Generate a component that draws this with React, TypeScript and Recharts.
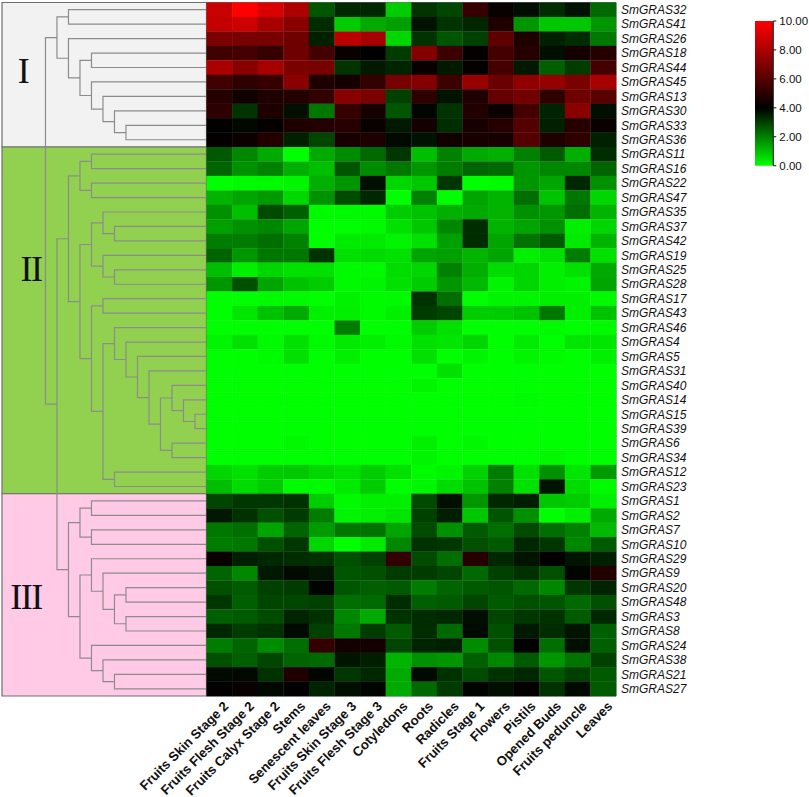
import { Bar, BarChart, ReferenceArea, ReferenceDot, Scatter, ScatterChart, XAxis, YAxis } from "recharts";

const genes = [
  "SmGRAS32", "SmGRAS41", "SmGRAS26", "SmGRAS18", "SmGRAS44", "SmGRAS45", "SmGRAS13", "SmGRAS30", "SmGRAS33", "SmGRAS36",
  "SmGRAS11", "SmGRAS16", "SmGRAS22", "SmGRAS47", "SmGRAS35", "SmGRAS37", "SmGRAS42", "SmGRAS19", "SmGRAS25", "SmGRAS28",
  "SmGRAS17", "SmGRAS43", "SmGRAS46", "SmGRAS4", "SmGRAS5", "SmGRAS31", "SmGRAS40", "SmGRAS14", "SmGRAS15", "SmGRAS39",
  "SmGRAS6", "SmGRAS34", "SmGRAS12", "SmGRAS23", "SmGRAS1", "SmGRAS2", "SmGRAS7", "SmGRAS10", "SmGRAS29", "SmGRAS9",
  "SmGRAS20", "SmGRAS48", "SmGRAS3", "SmGRAS8", "SmGRAS24", "SmGRAS38", "SmGRAS21", "SmGRAS27",
];

const tissues = [
  "Fruits Skin Stage 2", "Fruits Flesh Stage 2", "Fruits Calyx Stage 2", "Stems", "Senescent leaves",
  "Fruits Skin Stage 3", "Fruits Flesh Stage 3", "Cotyledons", "Roots", "Radicles", "Fruits Stage 1",
  "Flowers", "Pistils", "Opened Buds", "Fruits peduncle", "Leaves",
];

// expression per gene (rows) and tissue (columns)
const expression = [
  [8.7, 10, 9.1, 8.1, 2.67, 3.37, 3.37, 0.8, 3.2, 2.9, 5.3, 4.2, 3.8, 3.3, 3.7, 2.35],
  [8.6, 8.8, 7.9, 7.2, 3.3, 0.8, 1.33, 1.5, 3.7, 3.2, 3.4, 4.7, 1.65, 0.86, 0.86, 1.65],
  [6.9, 6.8, 6.8, 6.6, 3.5, 8.4, 7.9, 0.63, 3.2, 2.67, 3.0, 6.2, 4.7, 3.5, 3.3, 2.12],
  [5.5, 5.6, 5.3, 6.6, 5.6, 4.2, 4.0, 3.06, 7.1, 5.4, 4.1, 5.6, 4.9, 3.76, 4.5, 4.9],
  [8.0, 7.2, 7.9, 6.9, 6.8, 3.2, 3.6, 3.45, 4.2, 3.6, 4.1, 5.6, 3.6, 2.5, 3.06, 5.6],
  [5.5, 5.1, 5.3, 7.2, 4.7, 4.5, 5.2, 6.8, 7.1, 5.4, 7.6, 6.5, 7.4, 7.5, 6.9, 7.9],
  [4.9, 4.4, 4.7, 4.8, 5.2, 7.2, 6.9, 3.0, 5.1, 3.7, 4.7, 6.4, 6.7, 5.1, 6.6, 6.1],
  [5.1, 3.2, 4.7, 3.76, 2.12, 5.3, 4.6, 2.67, 3.92, 3.2, 4.8, 4.2, 5.6, 3.45, 7.2, 3.76],
  [4, 3.87, 4.1, 4.7, 4.8, 4.9, 4.2, 3.6, 4.5, 3.3, 4.6, 4.9, 6, 3.5, 4.9, 4.2],
  [4.1, 4.3, 4.8, 3.5, 2.9, 4.6, 4.7, 3.84, 3.7, 4.4, 4.6, 4.6, 6, 4.7, 5.1, 3.5],
  [2.6, 1.88, 1.33, 0, 1.33, 1.8, 2.35, 3.14, 1.02, 1.96, 1.33, 1.25, 1.96, 2.59, 1.25, 3.29],
  [2.43, 1.73, 1.96, 1.25, 1.02, 2.67, 1.8, 2.12, 1.65, 2.04, 2.43, 2.35, 1.65, 1.88, 1.88, 2.43],
  [0, 0.08, 0.08, 0.16, 1.25, 1.65, 3.76, 0.63, 0.86, 3.14, 0, 0.08, 1.65, 1.41, 3.37, 1.73],
  [1.18, 1.41, 1.57, 0.63, 1.73, 2.82, 3.37, 0, 1.96, 0, 1.41, 1.18, 2.27, 0.94, 2.12, 0.63],
  [1.73, 1.02, 2.82, 2.51, 0.08, 0.08, 0.08, 0.78, 0.94, 1.25, 1.33, 1.18, 1.73, 1.65, 2.27, 1.18],
  [1.49, 1.73, 1.88, 1.41, 0, 0, 0.08, 0.47, 0.86, 1.88, 3.29, 1.18, 1.41, 1.73, 0.24, 0.63],
  [2.04, 2.04, 2.27, 1.96, 0, 0.31, 0.31, 0.16, 0.47, 1.49, 3.29, 1.41, 2.2, 2.59, 0.31, 1.18],
  [2.43, 1.65, 2.12, 2.12, 3.22, 0.47, 0.55, 0.47, 1.41, 1.49, 1.18, 1.41, 0.24, 0.47, 2.04, 0.47],
  [1.02, 0.24, 0.63, 0.47, 0.47, 0.08, 0.08, 0.55, 0.63, 1.96, 1.25, 0.55, 0.63, 0.24, 0.47, 1.33],
  [1.65, 2.75, 1.41, 0.94, 0.78, 0.08, 0.16, 0.47, 0.78, 1.65, 1.1, 0.16, 0.63, 0.24, 0.16, 1.41],
  [0, 0, 0.08, 0.08, 0, 0.2, 0.08, 0.08, 3.22, 2.27, 0, 0.16, 0.16, 0.24, 0.24, 0.08],
  [0, 0.39, 0.94, 1.33, 0.24, 0.24, 0.08, 0.24, 3.06, 2.9, 0.78, 0.78, 0.94, 2.12, 0.24, 0.94],
  [0, 0, 0, 0, 0, 2.04, 0, 0, 0.78, 0.47, 0, 0, 0, 0.08, 0, 0.08],
  [0.16, 0.47, 0.08, 0.47, 0.08, 0.31, 0.24, 0.08, 0.47, 0.39, 0.63, 0, 0.31, 0, 0.39, 0.39],
  [0, 0, 0.08, 0.47, 0, 0.24, 0, 0, 0.47, 0, 0.16, 0, 0.16, 0.08, 0, 0.24],
  [0, 0, 0, 0, 0, 0, 0, 0, 0, 0.47, 0, 0, 0, 0, 0, 0],
  [0, 0, 0, 0, 0, 0, 0, 0, 0.16, 0, 0, 0, 0, 0, 0, 0],
  [0, 0, 0, 0, 0, 0, 0, 0, 0, 0, 0, 0, 0.04, 0, 0, 0],
  [0, 0, 0, 0, 0, 0, 0, 0, 0, 0, 0, 0, 0, 0, 0, 0],
  [0, 0, 0, 0, 0, 0, 0, 0, 0, 0, 0, 0, 0, 0, 0, 0],
  [0, 0, 0, 0.1, 0, 0, 0, 0, 0.24, 0, 0.1, 0, 0, 0, 0, 0],
  [0, 0, 0, 0, 0, 0, 0, 0, 0.16, 0, 0, 0, 0, 0.1, 0, 0],
  [0.63, 0.47, 0.78, 0.86, 0.63, 0.47, 0.78, 0.47, 0.08, 0.16, 0.7, 2.04, 0.47, 1.73, 0.39, 1.57],
  [1.02, 0.55, 0.78, 0.08, 0.08, 0.31, 0.78, 0, 0.16, 0.55, 0.94, 1.96, 0.47, 3.69, 0.55, 0.08],
  [2.9, 3.14, 3.14, 3.22, 0.78, 0.08, 0.24, 0.24, 2.82, 3.76, 1.65, 3.37, 3.53, 0.86, 0.78, 0.24],
  [3.61, 3.22, 2.75, 3.06, 2.04, 0.16, 0.24, 0.39, 2.98, 3.53, 0.86, 2.67, 1.73, 0, 0.24, 1.33],
  [2.12, 2.27, 1.41, 2.43, 1.57, 2.12, 2.2, 1.41, 2.82, 1.73, 2.59, 2.27, 2.82, 2.27, 1.96, 1.1],
  [2.04, 2.12, 2.75, 3.14, 0.63, 0, 0.31, 1.88, 3.22, 3.14, 2.75, 2.59, 3.37, 3.14, 1.88, 2.59],
  [4.2, 3.53, 3.37, 3.29, 3.22, 2.75, 2.98, 5.2, 2.82, 2.27, 4.9, 3.37, 3.69, 4.1, 3.69, 3.53],
  [2.43, 1.88, 3.61, 3.84, 3.69, 2.67, 2.75, 3.06, 3.06, 2.9, 2.35, 2.98, 3.22, 2.75, 3.92, 4.8],
  [2.75, 2.59, 2.98, 3.06, 3.95, 2.67, 2.51, 2.59, 2.04, 2.43, 2.59, 2.67, 2.35, 1.88, 3.14, 3.45],
  [3.14, 2.51, 2.9, 2.9, 2.98, 2.27, 2.35, 3.29, 2.51, 2.59, 2.9, 2.59, 2.75, 2.67, 2.35, 2.75],
  [2.51, 2.59, 2.82, 3.45, 3.22, 1.88, 1.33, 3.22, 3.29, 3.37, 3.76, 2.9, 3.14, 3.22, 2.59, 3.37],
  [3.37, 3.06, 3.22, 3.84, 2.98, 2.12, 3.06, 2.59, 3.29, 2.35, 3.84, 2.75, 3.61, 3.29, 3.69, 2.51],
  [2.04, 2.43, 1.8, 2.27, 5.2, 4.5, 4.5, 2.9, 3.45, 3.53, 1.8, 2.75, 4, 2.27, 3.76, 2.51],
  [2.75, 2.51, 2.9, 2.43, 2.35, 3.69, 3.53, 1.18, 1.73, 1.65, 2.51, 1.88, 2.59, 1.65, 2.2, 2.98],
  [3.84, 3.87, 3.22, 4.7, 3.92, 3.14, 3.37, 1.33, 3.84, 3.22, 2.82, 3.22, 3.37, 2.67, 2.98, 2.59],
  [4.05, 4.2, 3.87, 4.05, 3.45, 3.76, 3.92, 1.33, 2.35, 3.06, 3.92, 3.76, 4.1, 3.22, 3.84, 2.59],
];

// gene tree as nested pairs of row numbers
type Clade = number | [Clade, Clade];
const cladeI: Clade = [[0, 1], [2, [[3, 4], [5, [6, [7, [8, 9]]]]]]];
const cladeII: Clade = [
  [[10, 11], [12, 13]],
  [
    [[14, [15, 16]], [17, [18, 19]]],
    [[20, 21], [[22, [23, [24, [25, [[26, [27, [28, 29]]], [30, 31]]]]]], [32, 33]]],
  ],
];
const cladeIII: Clade = [
  [[34, 35], [36, 37]],
  [[38, [39, [[40, 41], [42, 43]]]], [44, [45, [46, 47]]]],
];
const geneTree: Clade = [cladeI, [cladeII, cladeIII]];

const legendTicks = [0, 2, 4, 6, 8, 10];
const legendStops = [10, 8, 6, 4, 2, 0];
const legendData = [{ name: "scale", value: 10 }];

const LEAF_DEPTH = 14;
const SANS = "'Liberation Sans', Arial, sans-serif";
const TREE_STROKE = "#8c8c8c";
const PANEL_STROKE = "#6e6e6e";

const PLOT_TOP = 2.5;
const PLOT_BOTTOM = 696;
const HEAT_LEFT = 206.5;
const HEAT_RIGHT = 616;
const CELL_W = (HEAT_RIGHT - HEAT_LEFT) / tissues.length;
const CELL_H = (PLOT_BOTTOM - PLOT_TOP) / genes.length;

function colorOf(v: number) {
  if (v <= 4) return `rgb(0,${Math.round(255 * (1 - v / 4))},0)`;
  return `rgb(${Math.round((255 * (v - 4)) / 6)},0,0)`;
}

type Bracket = { depth: number; row: number }[];

// walks the tree, returns the row of the node and collects one bracket per node
function layout(clade: Clade, depth: number, out: Bracket[]): number {
  if (typeof clade === "number") return clade + 0.5;
  const childDepth = (c: Clade) => (typeof c === "number" ? LEAF_DEPTH : depth + 1);
  const a = layout(clade[0], depth + 1, out);
  const b = layout(clade[1], depth + 1, out);
  out.push([
    { depth: childDepth(clade[0]), row: a },
    { depth, row: a },
    { depth, row: b },
    { depth: childDepth(clade[1]), row: b },
  ]);
  return (a + b) / 2;
}

const brackets: Bracket[] = [];
layout(geneTree, 0, brackets);

const cells = expression.flatMap((vals, r) =>
  vals.map((value, c) => ({ col: c + 0.5, row: r + 0.5, value }))
);

const rowTicks = genes.map((_, i) => i + 0.5);
const colTicks = tissues.map((_, i) => i + 0.5);

function HeatCell(props: { cx?: number; cy?: number; payload?: { value: number } }) {
  const { cx = 0, cy = 0, payload } = props;
  return (
    <rect
      x={cx - CELL_W / 2}
      y={cy - CELL_H / 2}
      width={CELL_W + 0.3}
      height={CELL_H + 0.3}
      fill={colorOf(payload?.value ?? 0)}
    />
  );
}

function TissueTick(props: { x?: number; y?: number; payload?: { value: number } }) {
  const { x = 0, y = 0, payload } = props;
  return (
    <text
      transform={`translate(${x + 10},${y + 3}) rotate(-45)`}
      textAnchor="end"
      fontFamily={SANS}
      fontWeight="bold"
      fontSize={13.2}
      fill="#111"
    >
      {tissues[Math.floor(payload?.value ?? 0)]}
    </text>
  );
}

const noPoint = () => <g />;
const layer: React.CSSProperties = { position: "absolute", left: 0, top: 0 };

function Numeral({ x, y, text }: { x: number; y: number; text: string }) {
  return (
    <ReferenceDot
      x={x}
      y={y}
      r={0}
      stroke="none"
      fill="none"
      label={{
        value: text,
        position: "center",
        fontFamily: "'Liberation Serif', serif",
        fontSize: 36,
        letterSpacing: -1.5,
        fill: "#111",
      }}
    />
  );
}

export default function App() {
  return (
    <div style={{ position: "absolute", left: 0, top: 0, width: 809, height: 797, overflow: "hidden", background: "#fff" }}>
      <div style={layer}>
        <ScatterChart
          width={809}
          height={797}
          margin={{ left: 2, right: 809 - HEAT_LEFT, top: PLOT_TOP, bottom: 797 - PLOT_BOTTOM }}
        >
          <XAxis type="number" dataKey="depth" domain={[-3.78, LEAF_DEPTH]} hide allowDataOverflow />
          <YAxis type="number" dataKey="row" domain={[0, genes.length]} reversed hide allowDataOverflow />
          <ReferenceArea x1={-3.78} x2={LEAF_DEPTH} y1={0} y2={10} fill="#f2f2f2" fillOpacity={1} stroke={PANEL_STROKE} strokeWidth={1.2} />
          <ReferenceArea x1={-3.78} x2={LEAF_DEPTH} y1={10} y2={34} fill="#92d050" fillOpacity={1} stroke={PANEL_STROKE} strokeWidth={1.2} />
          <ReferenceArea x1={-3.78} x2={LEAF_DEPTH} y1={34} y2={48} fill="#ffcae6" fillOpacity={1} stroke={PANEL_STROKE} strokeWidth={1.2} />
          {brackets.map((b, i) => (
            <Scatter
              key={i}
              data={b}
              line={{ stroke: TREE_STROKE, strokeWidth: 1.2 }}
              lineType="joint"
              shape={noPoint}
              isAnimationActive={false}
            />
          ))}
          <Numeral x={-1.96} y={4.7} text="I" />
          <Numeral x={-1.26} y={18.4} text="II" />
          <Numeral x={-1.7} y={41.1} text="III" />
        </ScatterChart>
      </div>

      <div style={layer}>
        <ScatterChart
          width={809}
          height={797}
          margin={{ left: HEAT_LEFT, right: 113, top: PLOT_TOP, bottom: 41 }}
        >
          <XAxis
            type="number"
            dataKey="col"
            domain={[0, tissues.length]}
            ticks={colTicks}
            interval={0}
            height={60}
            axisLine={false}
            tickLine={false}
            tick={<TissueTick />}
          />
          <YAxis
            type="number"
            dataKey="row"
            orientation="right"
            domain={[0, genes.length]}
            reversed
            ticks={rowTicks}
            interval={0}
            width={80}
            axisLine={false}
            tickLine={false}
            tickSize={0}
            tickMargin={5}
            tickFormatter={(v: number) => genes[Math.floor(v)]}
            tick={{ fontFamily: SANS, fontStyle: "italic", fontSize: 12, fill: "#111", textAnchor: "start" }}
          />
          <Scatter data={cells} shape={<HeatCell />} isAnimationActive={false} />
          <ReferenceArea x1={0} x2={tissues.length} y1={0} y2={genes.length} fill="none" stroke={PANEL_STROKE} strokeWidth={1} />
        </ScatterChart>
      </div>

      <div style={layer}>
        <BarChart
          width={809}
          height={797}
          data={legendData}
          barCategoryGap={0}
          margin={{ left: 755, right: 0, top: 21, bottom: 797 - 165.7 }}
        >
          <defs>
            <linearGradient id="legendFill" x1="0" y1="0" x2="0" y2="1">
              {legendStops.map((v, i) => (
                <stop key={v} offset={i / (legendStops.length - 1)} stopColor={colorOf(v)} />
              ))}
            </linearGradient>
          </defs>
          <XAxis dataKey="name" hide />
          <YAxis
            orientation="right"
            domain={[0, 10]}
            ticks={legendTicks}
            interval={0}
            width={35.7}
            tickSize={3}
            tickMargin={3}
            axisLine={{ stroke: "#111" }}
            tickLine={{ stroke: "#111" }}
            tickFormatter={(v: number) => v.toFixed(2)}
            tick={{ fontFamily: SANS, fontSize: 11.5, fill: "#111" }}
          />
          <Bar dataKey="value" fill="url(#legendFill)" isAnimationActive={false} />
        </BarChart>
      </div>
    </div>
  );
}
